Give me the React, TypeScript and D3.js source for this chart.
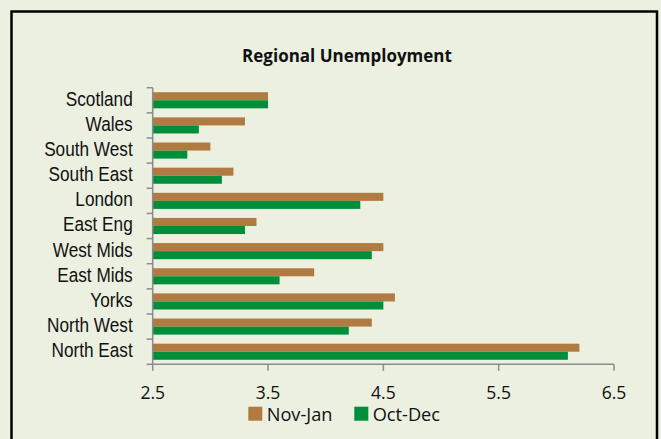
import React from 'react';
import * as d3 from 'd3';

const categories = ['Scotland', 'Wales', 'South West', 'South East', 'London', 'East Eng', 'West Mids', 'East Mids', 'Yorks', 'North West', 'North East'];
const novJan = [3.5, 3.3, 3.0, 3.2, 4.5, 3.4, 4.5, 3.9, 4.6, 4.4, 6.2];
const octDec = [3.5, 2.9, 2.8, 3.1, 4.3, 3.3, 4.4, 3.6, 4.5, 4.2, 6.1];
const seriesNames = ['Nov-Jan', 'Oct-Dec'];
const xTicks = [2.5, 3.5, 4.5, 5.5, 6.5];
const title = 'Regional Unemployment';

const W = 661;
const H = 439;
const colors = ['#B07A41', '#008E3A'];
const bg = '#EBF0E0';
const axisColor = '#8C8C8C';

export default function App() {
  const x = d3.scaleLinear().domain([2.5, 6.5]).range([152.7, 614]);
  const y = d3.scaleBand<string>().domain(categories).range([87.7, 364.3]).paddingInner(0.36).paddingOuter(0.18);
  const inner = d3.scaleBand<string>().domain(seriesNames).range([0, y.bandwidth()]);
  const seriesData = [novJan, octDec];
  const [top, bottom] = y.range();
  const step = y.step();
  const x0 = x(2.5);
  const boundaries = d3.range(categories.length + 1).map((i) => top + i * step);

  return (
    <svg width={W} height={H} style={{ position: 'absolute', left: 0, top: 0, display: 'block' }}>
      <rect x={0} y={0} width={W} height={H} fill={bg} />
      <rect x={11.5} y={11.5} width={645.5} height={480} fill="none" stroke="#000" strokeWidth={2.5} />
      <text x={347} y={61.5} textAnchor="middle" fontFamily="'Open Sans', sans-serif" fontWeight="bold" fontSize={17} fill="#111">
        {title}
      </text>
      {categories.map((c, i) => (
        <g key={c}>
          {seriesNames.map((s, j) => (
            <rect
              key={s}
              x={x0}
              y={(y(c) as number) + (inner(s) as number)}
              width={x(seriesData[j][i]) - x0}
              height={inner.bandwidth()}
              fill={colors[j]}
            />
          ))}
          <text
            transform={`translate(132.7, ${(y(c) as number) + y.bandwidth() / 2 + 5.4}) scale(1, 1.13)`}
            textAnchor="end"
            fontFamily="'Liberation Sans', Arial, sans-serif"
            fontSize={17.2}
            fill="#111"
          >
            {c}
          </text>
        </g>
      ))}
      <g stroke={axisColor} strokeWidth={1.5} fill="none">
        <line x1={x0} y1={top} x2={x0} y2={bottom} />
        {boundaries.map((b, i) => (
          <line key={i} x1={x0 - 6} y1={b} x2={x0} y2={b} />
        ))}
        <line x1={x0} y1={bottom} x2={x(6.5)} y2={bottom} />
        {xTicks.map((t) => (
          <line key={t} x1={x(t)} y1={bottom} x2={x(t)} y2={bottom + 6.5} />
        ))}
      </g>
      {xTicks.map((t) => (
        <text key={t} x={x(t)} y={399.3} textAnchor="middle" fontFamily="'Open Sans', sans-serif" fontSize={17.5} fill="#111">
          {t.toFixed(1)}
        </text>
      ))}
      {seriesNames.map((s, j) => {
        const lx = 248.3 + j * 106;
        return (
          <g key={s}>
            <rect x={lx} y={406.7} width={14} height={14} fill={colors[j]} />
            <text x={lx + 18.4} y={421} fontFamily="'Open Sans', sans-serif" fontSize={18.2} fill="#111">
              {s}
            </text>
          </g>
        );
      })}
    </svg>
  );
}
